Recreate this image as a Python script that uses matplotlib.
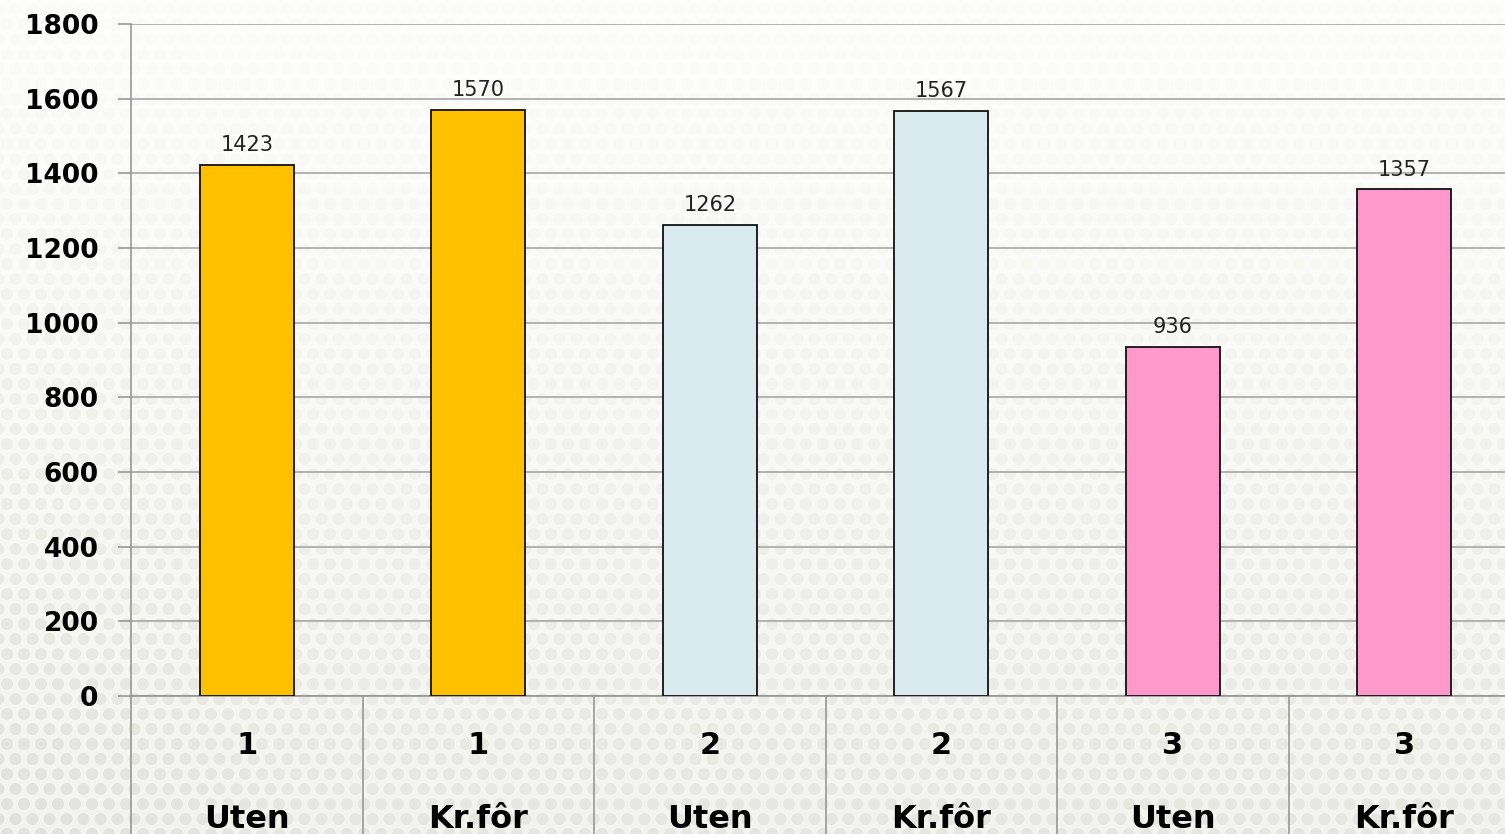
import matplotlib
matplotlib.use("Agg")
import matplotlib.pyplot as plt
import numpy as np

groups = ['1', '1', '2', '2', '3', '3']
treatments = ['Uten', 'Kr.fôr', 'Uten', 'Kr.fôr', 'Uten', 'Kr.fôr']
values = [1423, 1570, 1262, 1567, 936, 1357]
colors = ['#FFC000', '#FFC000', '#DAEBEF', '#DAEBEF', '#FF99CC', '#FF99CC']
yticks = [0, 200, 400, 600, 800, 1000, 1200, 1400, 1600, 1800]

W, H = 1505, 834
fig = plt.figure(figsize=(W / 100, H / 100), dpi=100)

# background: gradient + dot pattern
bg = fig.add_axes([0, 0, 1, 1])
bg.set_axis_off()
grad = np.linspace(0, 1, 256).reshape(-1, 1)
top = np.array([0.995, 0.995, 0.99])
bot = np.array([0.955, 0.955, 0.94])
img = top[None, None, :] * (1 - grad[..., None] ** 1.2) + bot[None, None, :] * (grad[..., None] ** 1.2)
bg.imshow(img, extent=[0, W, 0, H], aspect='auto', origin='upper')
xs, ys, cs = [], [], []
row = 0
for yy in np.arange(0, H + 16, 15):
    off = 8.5 if row % 2 else 0
    for xx in np.arange(-10, W + 17, 17):
        xs.append(xx + off)
        ys.append(yy)
        a = 0.05 + 0.45 * (1 - yy / H) ** 1.6 + 0.2 * max(0, 1 - xx / 300) * (1 - yy / H)
        cs.append((0.86, 0.86, 0.83, min(a, 0.7)))
    row += 1
bg.scatter(xs, ys, s=75, c=cs, linewidths=0)
bg.set_xlim(0, W)
bg.set_ylim(0, H)

ax = fig.add_axes([131 / W, 138 / H, 1389 / W, 672 / H])
ax.patch.set_alpha(0)
x = np.arange(len(values))
bars = ax.bar(x, values, width=0.405, color=colors, edgecolor='#111111', linewidth=1.3, zorder=3)
for xi, v in zip(x, values):
    ax.annotate(str(v), (xi, v), xytext=(0, 7), textcoords='offset points',
                ha='center', va='bottom', fontsize=15, color='#222222')

ax.set_xlim(-0.5, len(values) - 0.5)
ax.set_ylim(0, 1800)
ax.set_yticks(yticks)
ax.set_yticklabels([str(t) for t in yticks], fontsize=19, fontweight='bold')
ax.yaxis.grid(True, color='#a0a0a0', linewidth=1.1, zorder=0)
ax.set_axisbelow(True)
ax.tick_params(axis='y', length=9.4, width=1.1, color='#909090', pad=14)
ax.set_xticks([])
for s in ['top', 'right']:
    ax.spines[s].set_visible(False)
for s in ['left', 'bottom']:
    ax.spines[s].set_color('#909090')
    ax.spines[s].set_linewidth(1.1)

tr = ax.get_xaxis_transform()
for i in range(len(values) + 1):
    ax.plot([i - 0.5, i - 0.5], [0, -0.21], transform=tr, color='#909090', linewidth=1.1, clip_on=False)
for i, (g, t) in enumerate(zip(groups, treatments)):
    ax.text(i, -49 / 672, g, transform=tr, ha='center', va='center', fontsize=22, fontweight='bold')
    ax.text(i, -124 / 672, t, transform=tr, ha='center', va='center', fontsize=23, fontweight='bold')

fig.savefig('out.png', dpi=100)
